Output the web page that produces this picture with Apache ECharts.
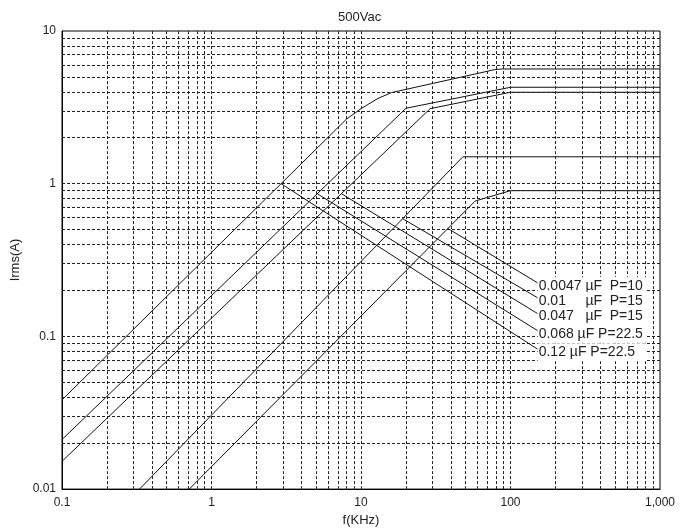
<!DOCTYPE html>
<html>
<head>
<meta charset="utf-8">
<script src="https://cdn.jsdelivr.net/npm/echarts@6/dist/echarts.min.js"></script>
<style>
  html, body { margin: 0; padding: 0; background: #fff; }
  #chart { width: 691px; height: 532px; }
</style>
</head>
<body>
<div id="chart"></div>
<script>
// Irms(A) vs f(kHz)
var curveA = [[0.1, 0.0384], [8, 2.65], [10, 3.1], [13, 3.62], [16, 3.95], [78, 5.58], [88, 5.64], [1000, 5.64]];
var curveB = [[0.1, 0.0211], [20, 3.12], [100, 4.28], [1000, 4.28]];
var curveC = [[0.1, 0.0152], [29, 3.1], [100, 3.97], [1000, 3.97]];
var curveD = [[0.33, 0.01], [48, 1.5], [1000, 1.5]];
var curveE = [[0.71, 0.01], [58, 0.77], [100, 0.9], [1000, 0.9]];

// leader lines from the curves to their labels
var leaderNames = ["0.0047 µF  P=10", "0.01     µF  P=15", "0.047   µF  P=15", "0.068 µF P=22.5", "0.12 µF P=22.5"];
var leaderE = [[38, 0.51], [152, 0.224]];
var leaderD = [[19, 0.59], [152, 0.179]];
var leaderC = [[7.4, 0.86], [152, 0.141]];
var leaderB = [[5.1, 0.86], [152, 0.109]];
var leaderA = [[2.92, 1.0], [152, 0.0824]];

var xTickValues = [0.1, 1, 10, 100, 1000];
var xTickLabels = ["0.1", "1", "10", "100", "1,000"];
var yTickValues = [0.01, 0.1, 1, 10];
var yTickLabels = ["0.01", "0.1", "1", "10"];

var xDecades = [0.1, 1, 10, 100];
var yDecades = [0.01, 0.1, 1];
var gridSteps = [1, 2, 3, 4, 5, 6, 7, 8, 9];

function tickLabel(values, labels) {
  return function (v) {
    for (var i = 0; i < values.length; i++) {
      if (Math.abs(Math.log10(v) - Math.log10(values[i])) < 0.01) return labels[i];
    }
    return "";
  };
}

// dashed grid at every 1..9 step of each decade
var gridLines = [];
xDecades.forEach(function (d, i) {
  gridSteps.forEach(function (s) {
    if (i === 0 && s === 1) return;
    gridLines.push({ xAxis: +(d * s).toPrecision(3) });
  });
});
yDecades.forEach(function (d, i) {
  gridSteps.forEach(function (s) {
    if (i === 0 && s === 1) return;
    gridLines.push({ yAxis: +(d * s).toPrecision(3) });
  });
});

var textColor = "#222";
var lineColor = "#111";

function curve(data) {
  return {
    type: "line",
    data: data,
    symbol: "none",
    z: 4,
    lineStyle: { color: lineColor, width: 1 },
    animation: false
  };
}

function leader(data, name) {
  return {
    type: "line",
    data: data,
    symbol: "none",
    z: 5,
    lineStyle: { color: lineColor, width: 1 },
    endLabel: {
      show: true,
      formatter: function () { return name; },
      color: textColor,
      fontSize: 14,
      fontFamily: "Liberation Sans, Arial, sans-serif",
      backgroundColor: "#fff",
      width: 106,
      lineHeight: 16,
      padding: [1, 2, 1, 1],
      distance: 0,
      offset: [0, 3]
    },
    animation: false
  };
}

var myChart = echarts.init(document.getElementById("chart"));
var option = {
  backgroundColor: "#fff",
  animation: false,
  textStyle: { fontFamily: "Liberation Sans, Arial, sans-serif" },
  title: {
    text: "500Vac",
    left: 333,
    top: 6,
    textStyle: { fontSize: 13, fontWeight: "normal", color: textColor }
  },
  grid: {
    left: 62, right: 31, top: 31, bottom: 39,
    show: true, borderColor: "#000", borderWidth: 1
  },
  xAxis: {
    type: "log",
    logBase: 10,
    min: 0.1,
    max: 1000,
    name: "f(KHz)",
    nameLocation: "middle",
    nameGap: 24,
    nameTextStyle: { fontSize: 13, color: textColor },
    axisLine: { lineStyle: { color: "#000" } },
    axisTick: { show: false },
    splitLine: { show: false },
    axisLabel: { color: textColor, fontSize: 12, margin: 8, formatter: tickLabel(xTickValues, xTickLabels) }
  },
  yAxis: {
    type: "log",
    logBase: 10,
    min: 0.01,
    max: 10,
    name: "Irms(A)",
    nameLocation: "middle",
    nameGap: 33,
    nameRotate: 90,
    nameTextStyle: { fontSize: 13, color: textColor },
    axisLine: { show: true, lineStyle: { color: "#000" } },
    axisTick: { show: false },
    splitLine: { show: false },
    axisLabel: { color: textColor, fontSize: 12, margin: 6, formatter: tickLabel(yTickValues, yTickLabels) }
  },
  series: [
    {
      type: "line",
      data: [],
      z: 1,
      silent: true,
      markLine: {
        silent: true,
        symbol: ["none", "none"],
        label: { show: false },
        animation: false,
        lineStyle: { color: "#222", width: 1, type: [3, 2] },
        data: gridLines
      }
    },
    curve(curveA),
    curve(curveB),
    curve(curveC),
    curve(curveD),
    curve(curveE),
    leader(leaderE, leaderNames[0]),
    leader(leaderD, leaderNames[1]),
    leader(leaderC, leaderNames[2]),
    leader(leaderB, leaderNames[3]),
    leader(leaderA, leaderNames[4])
  ]
};
myChart.setOption(option);
</script>
</body>
</html>
